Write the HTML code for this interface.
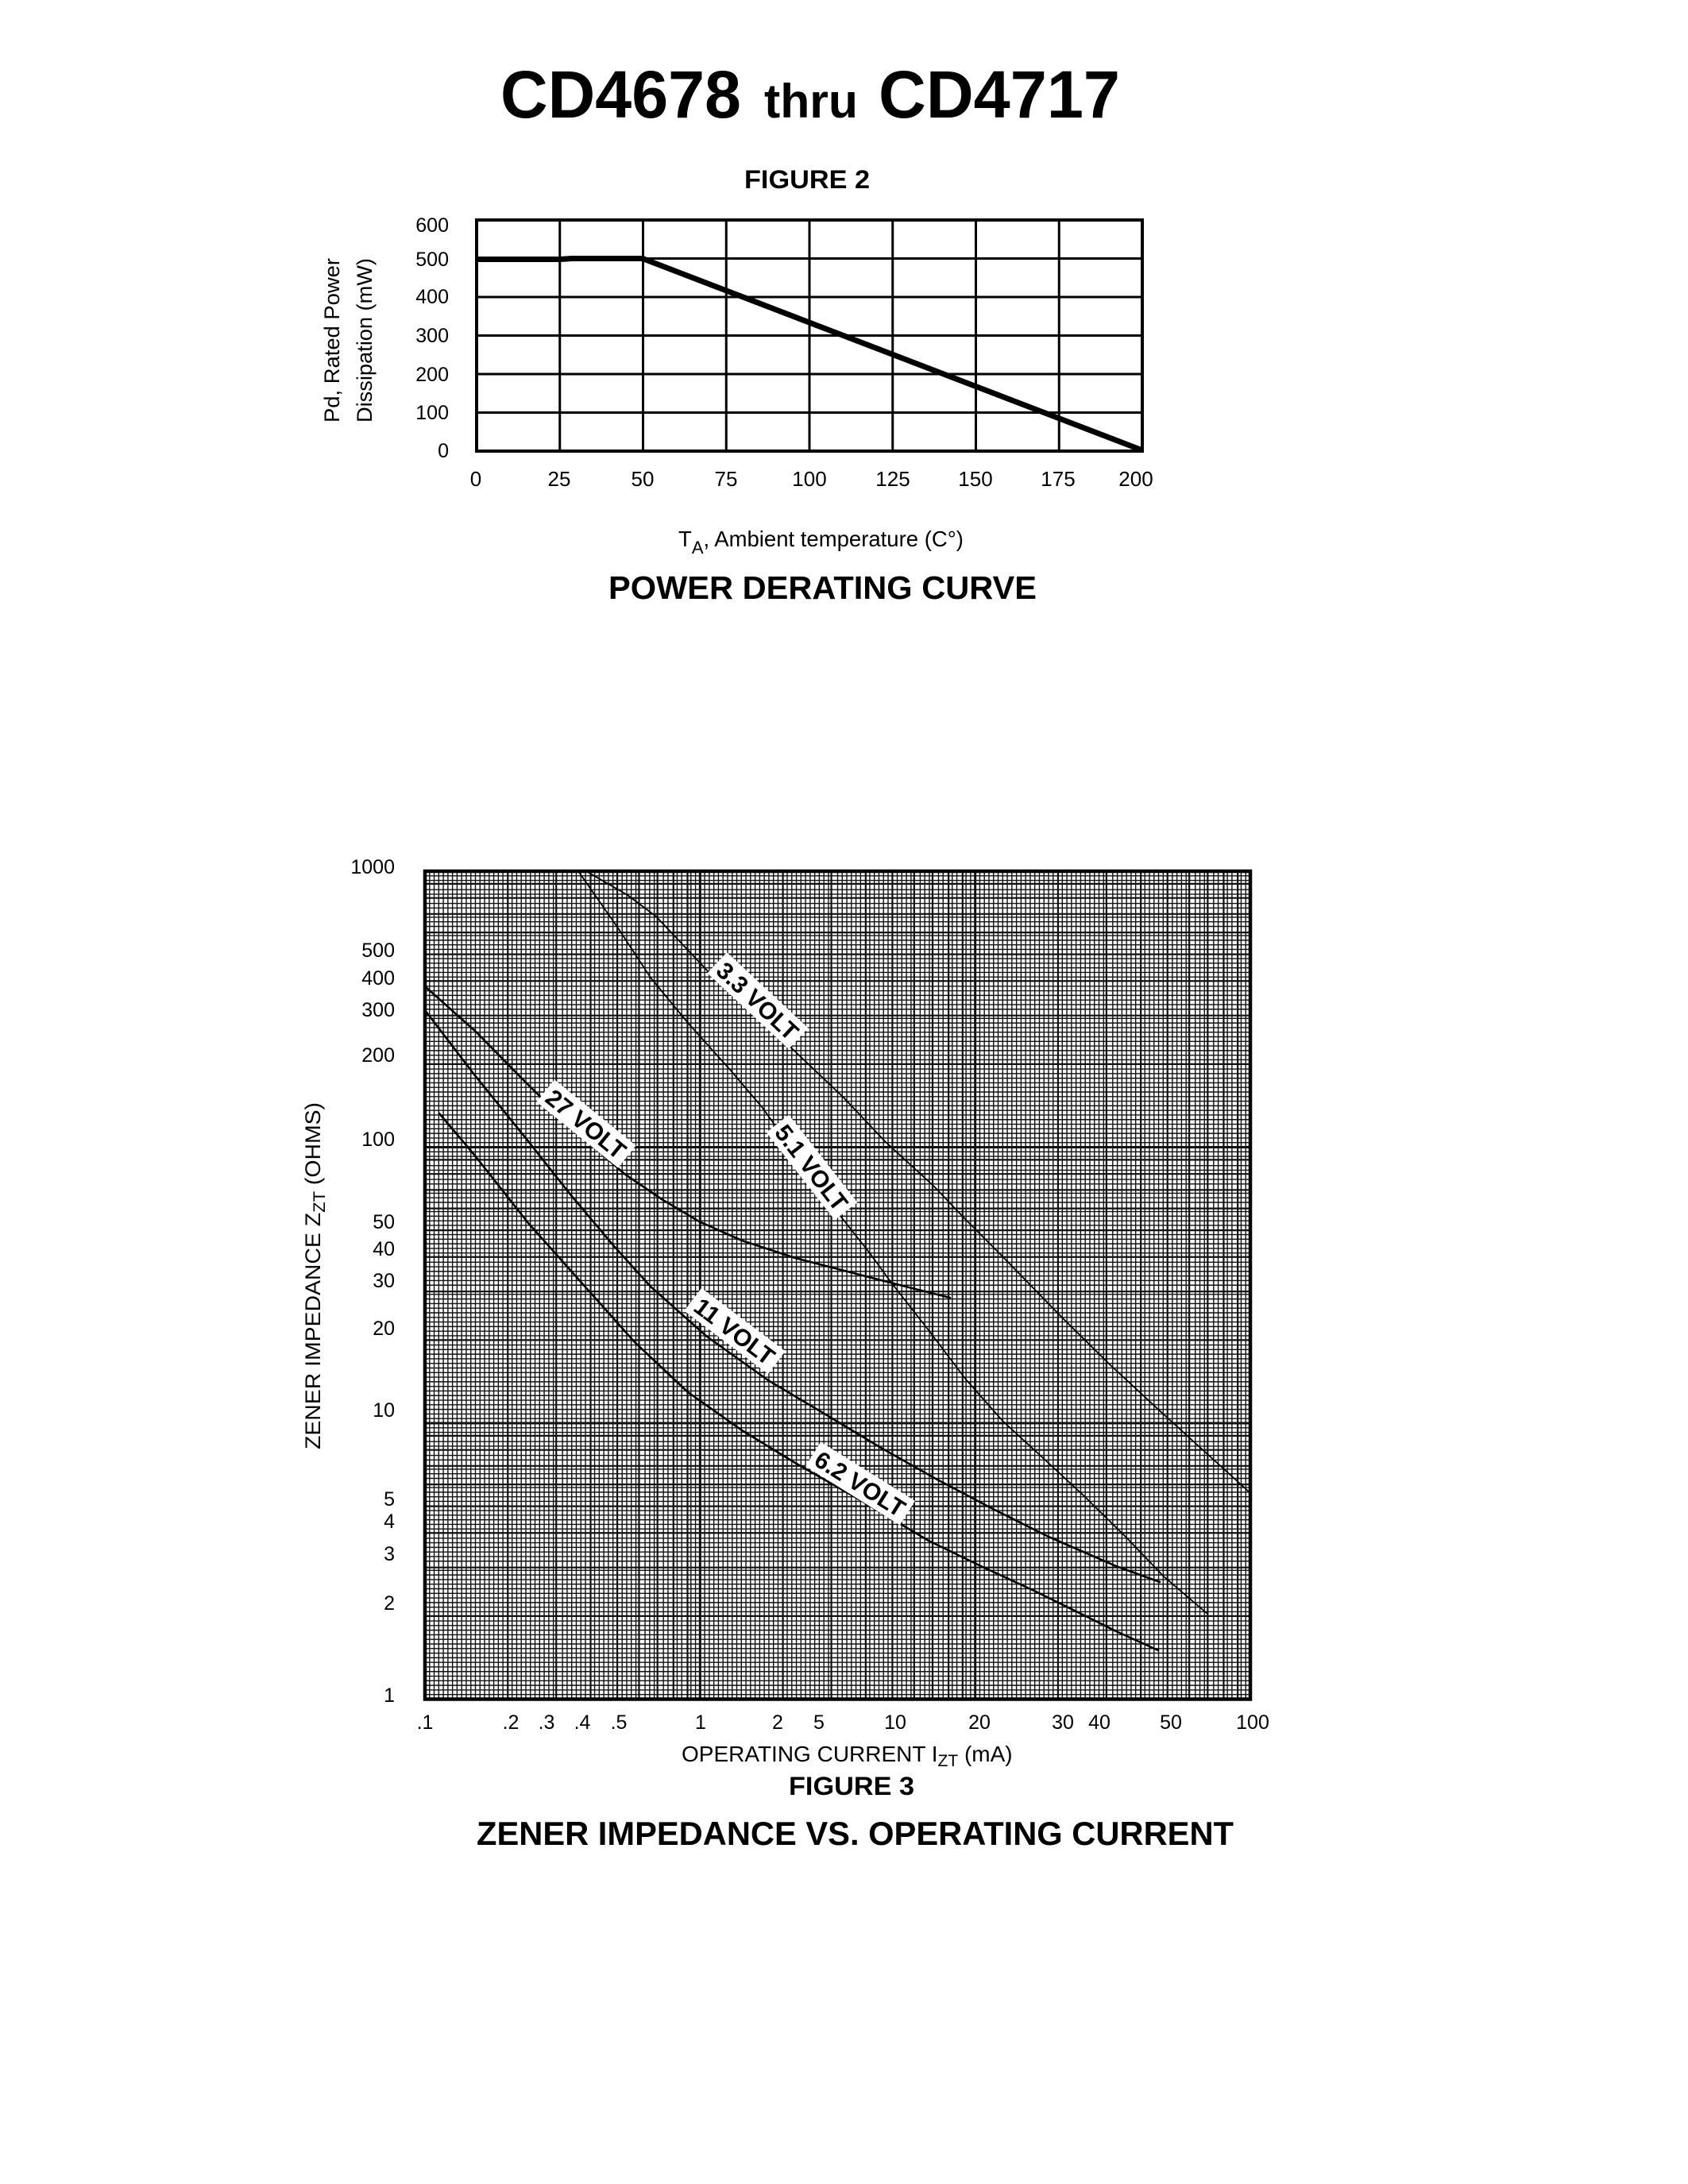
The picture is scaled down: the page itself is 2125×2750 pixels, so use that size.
<!DOCTYPE html>
<html><head><meta charset="utf-8"><style>
html,body{margin:0;padding:0;background:#fff;}
svg{display:block;}
text{font-family:"Liberation Sans",Arial,sans-serif;fill:#000;}
</style></head><body>
<svg width="2125" height="2750" viewBox="0 0 2125 2750" xmlns="http://www.w3.org/2000/svg">
<rect x="0" y="0" width="2125" height="2750" fill="#fff"/>
<defs>
<path id="vmin" d="M.01667 0v1042.5M.03333 0v1042.5M.05 0v1042.5M.06667 0v1042.5M.08333 0v1042.5M.1 0v1042.5M.11667 0v1042.5M.13333 0v1042.5M.15 0v1042.5M.16667 0v1042.5M.18333 0v1042.5M.2 0v1042.5M.21667 0v1042.5M.23333 0v1042.5M.25 0v1042.5M.26667 0v1042.5M.28333 0v1042.5M.31667 0v1042.5M.33333 0v1042.5M.35 0v1042.5M.36667 0v1042.5M.38333 0v1042.5M.4 0v1042.5M.41667 0v1042.5M.43333 0v1042.5M.45 0v1042.5M.46667 0v1042.5M.5 0v1042.5M.51667 0v1042.5M.53333 0v1042.5M.55 0v1042.5M.56667 0v1042.5M.58333 0v1042.5M.61667 0v1042.5M.63333 0v1042.5M.65 0v1042.5M.66667 0v1042.5M.68333 0v1042.5M.71667 0v1042.5M.73333 0v1042.5M.75 0v1042.5M.76667 0v1042.5M.8 0v1042.5M.81667 0v1042.5M.83333 0v1042.5M.86667 0v1042.5M.88333 0v1042.5M.91667 0v1042.5M.93333 0v1042.5M.96667 0v1042.5M.98333 0v1042.5"/>
<path id="vmaj" d="M.30103 0v1042.5M.47712 0v1042.5M.60206 0v1042.5M.69897 0v1042.5M.77815 0v1042.5M.84510 0v1042.5M.90309 0v1042.5M.95424 0v1042.5"/>
<path id="vdec" d="M0 0v1042.5"/>
<path id="hmin" d="M0 .01667h1039M0 .03333h1039M0 .05h1039M0 .06667h1039M0 .08333h1039M0 .1h1039M0 .11667h1039M0 .13333h1039M0 .15h1039M0 .16667h1039M0 .18333h1039M0 .2h1039M0 .21667h1039M0 .23333h1039M0 .25h1039M0 .26667h1039M0 .28333h1039M0 .31667h1039M0 .33333h1039M0 .35h1039M0 .36667h1039M0 .38333h1039M0 .4h1039M0 .41667h1039M0 .43333h1039M0 .45h1039M0 .46667h1039M0 .5h1039M0 .51667h1039M0 .53333h1039M0 .55h1039M0 .56667h1039M0 .58333h1039M0 .61667h1039M0 .63333h1039M0 .65h1039M0 .66667h1039M0 .68333h1039M0 .71667h1039M0 .73333h1039M0 .75h1039M0 .76667h1039M0 .8h1039M0 .81667h1039M0 .83333h1039M0 .86667h1039M0 .88333h1039M0 .91667h1039M0 .93333h1039M0 .96667h1039M0 .98333h1039"/>
<path id="hmaj" d="M0 .30103h1039M0 .47712h1039M0 .60206h1039M0 .69897h1039M0 .77815h1039M0 .84510h1039M0 .90309h1039M0 .95424h1039"/>
<path id="hdec" d="M0 0h1039"/>
</defs>

<!-- ===== TITLE ===== -->
<text x="630" y="148" font-size="84" font-weight="bold" textLength="303" lengthAdjust="spacingAndGlyphs">CD4678</text>
<text x="962" y="148" font-size="60" font-weight="bold" textLength="118" lengthAdjust="spacingAndGlyphs">thru</text>
<text x="1106" y="148" font-size="84" font-weight="bold" textLength="304" lengthAdjust="spacingAndGlyphs">CD4717</text>

<!-- ===== FIGURE 2 ===== -->
<text x="937" y="237" font-size="32" font-weight="bold" textLength="158" lengthAdjust="spacingAndGlyphs">FIGURE 2</text>

<g stroke="#000" stroke-width="3" fill="none">
<path d="M704.75 277V568M809.5 277V568M914.25 277V568M1019 277V568M1123.75 277V568M1228.5 277V568M1333.25 277V568"/>
<path d="M600 325.5H1438M600 374H1438M600 422.5H1438M600 471H1438M600 519.5H1438"/>
</g>
<rect x="600" y="277" width="838" height="291" fill="none" stroke="#000" stroke-width="4"/>
<polyline points="600,326.5 705,326.5 720,325.5 809,325.5 1438,567" fill="none" stroke="#000" stroke-width="7" stroke-linejoin="round"/>

<g font-size="25" text-anchor="end">
<text x="565" y="292">600</text>
<text x="565" y="335">500</text>
<text x="565" y="382">400</text>
<text x="565" y="431">300</text>
<text x="565" y="480">200</text>
<text x="565" y="528">100</text>
<text x="565" y="576">0</text>
</g>
<g font-size="26" text-anchor="middle">
<text x="599" y="612">0</text>
<text x="704" y="612">25</text>
<text x="809" y="612">50</text>
<text x="914" y="612">75</text>
<text x="1019" y="612">100</text>
<text x="1124" y="612">125</text>
<text x="1228" y="612">150</text>
<text x="1332" y="612">175</text>
<text x="1430" y="612">200</text>
</g>
<text transform="translate(427,532) rotate(-90)" font-size="27" textLength="207" lengthAdjust="spacingAndGlyphs">Pd, Rated Power</text>
<text transform="translate(468,532) rotate(-90)" font-size="27" textLength="207" lengthAdjust="spacingAndGlyphs">Dissipation (mW)</text>

<text x="854" y="688" font-size="27.5">T<tspan font-size="22" dy="9">A</tspan><tspan dy="-9">, Ambient temperature (C°)</tspan></text>
<text x="766" y="754" font-size="41" font-weight="bold" textLength="539" lengthAdjust="spacingAndGlyphs">POWER DERATING CURVE</text>

<!-- ===== FIGURE 3 GRID ===== -->
<g transform="translate(535,1097) scale(346.33,1)" stroke="#111" fill="none">
<use href="#vmin" x="0" stroke-width="0.00404"/><use href="#vmin" x="1" stroke-width="0.00404"/><use href="#vmin" x="2" stroke-width="0.00404"/>
<use href="#vmaj" x="0" stroke-width="0.0064"/><use href="#vmaj" x="1" stroke-width="0.0064"/><use href="#vmaj" x="2" stroke-width="0.0064"/>
<use href="#vdec" x="1" stroke-width="0.0087"/><use href="#vdec" x="2" stroke-width="0.0087"/>
</g>
<g transform="translate(535,2139.5) scale(1,-347.5)" stroke="#111" fill="none">
<use href="#hmin" y="0" stroke-width="0.00403"/><use href="#hmin" y="1" stroke-width="0.00403"/><use href="#hmin" y="2" stroke-width="0.00403"/>
<use href="#hmaj" y="0" stroke-width="0.00633"/><use href="#hmaj" y="1" stroke-width="0.00633"/><use href="#hmaj" y="2" stroke-width="0.00633"/>
<use href="#hdec" y="1" stroke-width="0.00863"/><use href="#hdec" y="2" stroke-width="0.00863"/>
</g>

<!-- curves -->
<g fill="none" stroke="#000" stroke-linejoin="round" stroke-linecap="round">
<polyline stroke-width="1.8" points="738,1097 790,1127 826,1154 860,1190 893,1225 950,1277 1001,1324 1062,1382 1115,1438 1176,1494 1216,1536 1263,1583 1297,1618 1337,1659 1398,1719 1465,1781 1519,1830 1574,1880"/>
<polyline stroke-width="1.8" points="728,1097 779,1170 819,1231 866,1288 920,1348 960,1395 1010,1465 1061,1535 1095,1578 1122,1615 1169,1675 1216,1737 1263,1790 1310,1833 1364,1883 1418,1936 1465,1985 1520,2032"/>
<polyline stroke-width="2.6" points="535,1242 599,1299 658,1359 720,1420 786,1478 833,1510 880,1538 934,1562 1001,1584 1055,1598 1109,1612 1156,1624 1196,1634"/>
<polyline stroke-width="2.6" points="535,1272 597,1353 665,1437 718,1504 772,1568 819,1620 890,1683 967,1738 1041,1782 1109,1823 1178,1862 1250,1900 1320,1935 1405,1972 1460,1992"/>
<polyline stroke-width="2.6" points="553,1402 597,1454 665,1540 732,1615 799,1690 866,1753 934,1801 1001,1842 1085,1890 1169,1940 1237,1973 1304,2004 1371,2037 1405,2054 1458,2078"/>
</g>

<!-- curve labels -->
<g font-size="30" font-weight="bold" text-anchor="middle">
<g transform="translate(954,1260) rotate(43)"><rect x="-70" y="-18" width="140" height="36" fill="#fff"/><text x="0" y="11">3.3 VOLT</text></g>
<g transform="translate(1022,1470) rotate(52)"><rect x="-70" y="-18" width="140" height="36" fill="#fff"/><text x="0" y="11">5.1 VOLT</text></g>
<g transform="translate(738,1415) rotate(39)"><rect x="-66" y="-18" width="132" height="36" fill="#fff"/><text x="0" y="11">27 VOLT</text></g>
<g transform="translate(925,1676) rotate(37)"><rect x="-66" y="-18" width="132" height="36" fill="#fff"/><text x="0" y="11">11 VOLT</text></g>
<g transform="translate(1083,1868) rotate(32)"><rect x="-70" y="-18" width="140" height="36" fill="#fff"/><text x="0" y="11">6.2 VOLT</text></g>
</g>

<!-- border -->
<rect x="535" y="1097" width="1039" height="1042.5" fill="none" stroke="#000" stroke-width="4.5"/>

<!-- y tick labels -->
<g font-size="25" text-anchor="end">
<text x="497" y="1100">1000</text>
<text x="497" y="1205">500</text>
<text x="497" y="1240">400</text>
<text x="497" y="1280">300</text>
<text x="497" y="1337">200</text>
<text x="497" y="1443">100</text>
<text x="497" y="1547">50</text>
<text x="497" y="1581">40</text>
<text x="497" y="1621">30</text>
<text x="497" y="1681">20</text>
<text x="497" y="1784">10</text>
<text x="497" y="1896">5</text>
<text x="497" y="1924">4</text>
<text x="497" y="1965">3</text>
<text x="497" y="2027">2</text>
<text x="497" y="2143">1</text>
</g>
<!-- x tick labels -->
<g font-size="25" text-anchor="middle">
<text x="535" y="2177">.1</text>
<text x="643" y="2177">.2</text>
<text x="688" y="2177">.3</text>
<text x="733" y="2177">.4</text>
<text x="779" y="2177">.5</text>
<text x="882" y="2177">1</text>
<text x="979" y="2177">2</text>
<text x="1031" y="2177">5</text>
<text x="1127" y="2177">10</text>
<text x="1233" y="2177">20</text>
<text x="1338" y="2177">30</text>
<text x="1384" y="2177">40</text>
<text x="1474" y="2177">50</text>
<text x="1577" y="2177">100</text>
</g>

<text transform="translate(403,1825) rotate(-90)" font-size="27" textLength="437" lengthAdjust="spacingAndGlyphs">ZENER IMPEDANCE Z<tspan font-size="21" dy="6">ZT</tspan><tspan dy="-6"> (OHMS)</tspan></text>

<text x="858" y="2218" font-size="28">OPERATING CURRENT I<tspan font-size="21" dy="6">ZT</tspan><tspan dy="-6"> (mA)</tspan></text>
<text x="993" y="2260" font-size="32" font-weight="bold" textLength="158" lengthAdjust="spacingAndGlyphs">FIGURE 3</text>
<text x="600" y="2323" font-size="42" font-weight="bold" textLength="953" lengthAdjust="spacingAndGlyphs">ZENER IMPEDANCE VS. OPERATING CURRENT</text>
</svg>
</body></html>
